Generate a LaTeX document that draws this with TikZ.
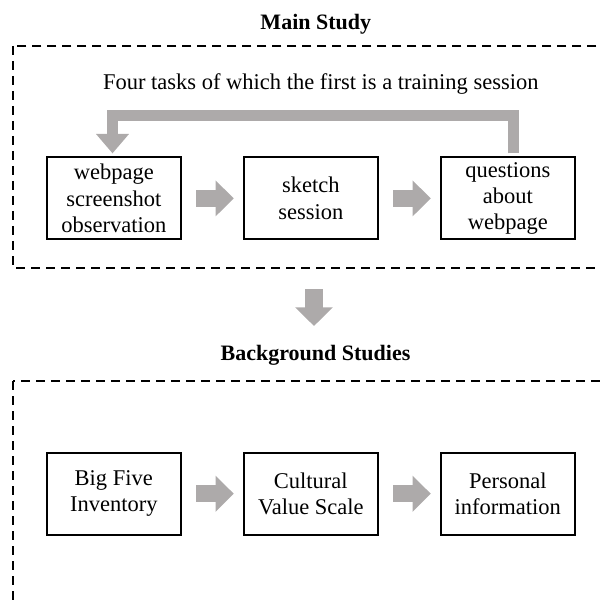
\documentclass[tikz,border=0pt]{standalone}
\usepackage{fontspec}
\setmainfont{Liberation Serif}
\usepackage{tikz}
\usetikzlibrary{positioning,arrows.meta}
\definecolor{arrowgray}{RGB}{173,170,170}

\begin{document}
\begin{tikzpicture}[x=1pt,y=-1pt,
  font=\fontsize{22.5}{26.3}\selectfont,
  task/.style={draw,line width=2pt,minimum width=134pt,minimum height=82pt,inner sep=0pt,outer sep=0pt,align=center},
  frame/.style={draw,line width=1.8pt,dash pattern=on 9pt off 6pt},
  heading/.style={anchor=base,font=\fontsize{22}{26}\selectfont\bfseries},
  blockarrow/.style={arrowgray,line width=17.4pt,-{Triangle[width=35pt,length=18.3pt]}},
  loopback/.style={arrowgray,line width=11.6pt,line join=miter,-{Triangle[width=31.7pt,length=19.4pt]}}]
\clip (0,0) rectangle (600,601);

\node [heading] (maintitle) at (315.8,29.3) {Main Study};
\draw [frame] (13.3,46) rectangle (630,268.3);
\node [anchor=base] (tasks) at (320.8,89.3) {Four tasks of which the first is a training session};

\node [task] (web) at (113.8,198.4) {webpage\\screenshot\\observation};
\node [task,right=63pt of web] (sketch) {sketch\\session};
\node [task,right=63pt of sketch] (quest) {questions\\about\\webpage};

\draw [blockarrow] ([xshift=15.6pt]web.east) -- ([xshift=-10pt]sketch.west);
\draw [blockarrow] ([xshift=15.6pt]sketch.east) -- ([xshift=-10pt]quest.west);
\draw [loopback] ([xshift=5.7pt,yshift=4pt]quest.north) -- ++(0pt,37.9pt) -| ([xshift=-1.3pt,yshift=4pt]web.north);

\coordinate (downtop) at (314,289.3);
\coordinate (downtip) at (314,326);
\draw [blockarrow,line width=18pt,-{Triangle[width=36.7pt,length=18.7pt]}] (downtop) -- (downtip);

\node [heading] (bgtitle) at (315.5,360.7) {Background Studies};
\draw [frame] (13.3,381) rectangle (630,650);

\node [task] (bigfive) at (113.8,493.7) {Big Five\\Inventory};
\node [task,right=63pt of bigfive] (cvscale) {Cultural\\Value Scale};
\node [task,right=63pt of cvscale] (personal) {Personal\\information};

\draw [blockarrow] ([xshift=15.6pt]bigfive.east) -- ([xshift=-10pt]cvscale.west);
\draw [blockarrow] ([xshift=15.6pt]cvscale.east) -- ([xshift=-10pt]personal.west);
\end{tikzpicture}
\end{document}
